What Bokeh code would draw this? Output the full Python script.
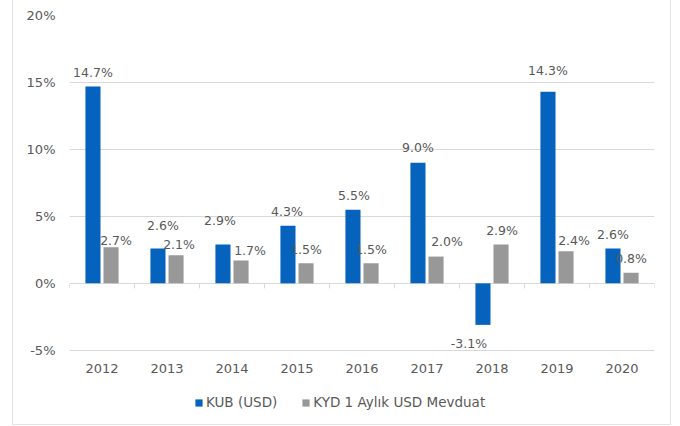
from bokeh.plotting import figure
from bokeh.models import ColumnDataSource, Legend, LegendItem, FixedTicker
from bokeh.transform import dodge
from bokeh.core.properties import value
from bokeh.embed import file_html
from bokeh.resources import INLINE

# ---- data ----
years = ["2012", "2013", "2014", "2015", "2016", "2017", "2018", "2019", "2020"]
kub_usd = [14.7, 2.6, 2.9, 4.3, 5.5, 9.0, -3.1, 14.3, 2.6]
kyd_usd = [2.7, 2.1, 1.7, 1.5, 1.5, 2.0, 2.9, 2.4, 0.8]
y_ticks = [-5, 0, 5, 10, 15, 20]
series_names = ["KUB (USD)", "KYD 1 Aylık USD Mevduat"]

# ---- styling (label nudges in screen px, as in the reference) ----
kub_dx = [0, 5, -3, -1, 1, 0, -14, 0, 0]
kub_dy = [-14, -23, -24, -14, -14, -15, 19, -21, -14]
kyd_dx = [5, 3, 9, 0, 0, 11, 1, 8, 0]
kyd_dy = [-7, -11, -10, -14, -14, -15, -14, -11, -14]

BLUE = "#0563bd"
GRAY = "#989898"
TXT = "#595959"
GRID = "#d9d9d9"
BORDER = "#e3e3e3"
FONT = "DejaVu Sans"

# layout geometry: plot area 334 px tall for the -5..20 axis, 75 px below it
Y_MIN, Y_MAX = y_ticks[0], y_ticks[-1]
px_per_unit = 334 / (Y_MAX - Y_MIN)
y_view_start = Y_MIN - 75 / px_per_unit

src = ColumnDataSource(dict(
    year=years, kub=kub_usd, kyd=kyd_usd,
    kub_lbl=[f"{v:.1f}%" for v in kub_usd],
    kyd_lbl=[f"{v:.1f}%" for v in kyd_usd],
    kub_dx=kub_dx, kub_dy=kub_dy, kyd_dx=kyd_dx, kyd_dy=kyd_dy,
    zero=[0] * len(years), tick_end=[-5 / px_per_unit] * len(years),
))
last_src = ColumnDataSource(dict(year=[years[-1]], zero=[0], tick_end=[-5 / px_per_unit]))

p = figure(x_range=years, y_range=(y_view_start, Y_MAX), width=659, height=425,
           output_backend="svg", toolbar_location=None,
           min_border_left=56, min_border_right=18,
           min_border_top=15, min_border_bottom=0)
p.outline_line_color = None
p.background_fill_color = "white"
p.border_fill_color = "white"
p.margin = (0, 0, 0, 12)
p.styles = {"border-left": f"1px solid {BORDER}",
            "border-right": f"1px solid {BORDER}",
            "border-bottom": f"1px solid {BORDER}"}

off = 0.139
bw = 0.232
r1 = p.vbar(x=dodge("year", -off, range=p.x_range), top="kub", bottom=0,
            width=bw, source=src, fill_color=BLUE, line_color=None)
r2 = p.vbar(x=dodge("year", off, range=p.x_range), top="kyd", bottom=0,
            width=bw, source=src, fill_color=GRAY, line_color=None)

# category boundary tick marks on the zero line
p.segment(x0=dodge("year", -0.5, range=p.x_range), x1=dodge("year", -0.5, range=p.x_range),
          y0="zero", y1="tick_end", source=src, line_color=GRID, line_width=1)
p.segment(x0=dodge("year", 0.5, range=p.x_range), x1=dodge("year", 0.5, range=p.x_range),
          y0="zero", y1="tick_end", source=last_src, line_color=GRID, line_width=1)

# data labels
p.text(x=dodge("year", -off, range=p.x_range), y="kub", text="kub_lbl",
       x_offset="kub_dx", y_offset="kub_dy", source=src,
       text_align="center", text_baseline="middle",
       text_font=value(FONT), text_font_size="12.5px", text_color=TXT)
p.text(x=dodge("year", off, range=p.x_range), y="kyd", text="kyd_lbl",
       x_offset="kyd_dx", y_offset="kyd_dy", source=src,
       text_align="center", text_baseline="middle",
       text_font=value(FONT), text_font_size="12.5px", text_color=TXT)

# axes
p.yaxis.ticker = FixedTicker(ticks=y_ticks)
p.yaxis.major_label_overrides = {t: f"{t}%" for t in y_ticks}
p.yaxis.axis_line_color = None
p.yaxis.major_tick_line_color = None
p.yaxis.minor_tick_line_color = None
p.yaxis.major_tick_out = 0
p.yaxis.major_tick_in = 0
p.yaxis.minor_tick_out = 0
p.yaxis.major_label_standoff = 14
p.yaxis.major_label_text_font = FONT
p.yaxis.major_label_text_font_size = "13px"
p.yaxis.major_label_text_color = TXT

p.xaxis.fixed_location = Y_MIN
p.xaxis.axis_line_color = None
p.xaxis.major_tick_line_color = None
p.xaxis.minor_tick_line_color = None
p.xaxis.major_tick_out = 0
p.xaxis.minor_tick_out = 0
p.xaxis.major_label_standoff = 14
p.xaxis.major_label_text_font = FONT
p.xaxis.major_label_text_font_size = "13px"
p.xaxis.major_label_text_color = TXT

p.xgrid.grid_line_color = None
p.ygrid.grid_line_color = GRID
p.ygrid.grid_line_width = 1

legend = Legend(items=[LegendItem(label=series_names[0], renderers=[r1]),
                       LegendItem(label=series_names[1], renderers=[r2])],
                orientation="horizontal", location=(125, 15),
                glyph_width=9, glyph_height=9, label_standoff=3, spacing=24,
                padding=0, margin=0, border_line_color=None,
                background_fill_alpha=0,
                label_text_font=FONT, label_text_font_size="13.5px",
                label_text_color=TXT, label_height=12)
p.add_layout(legend)

open("out.html", "w").write(file_html(p, INLINE))
